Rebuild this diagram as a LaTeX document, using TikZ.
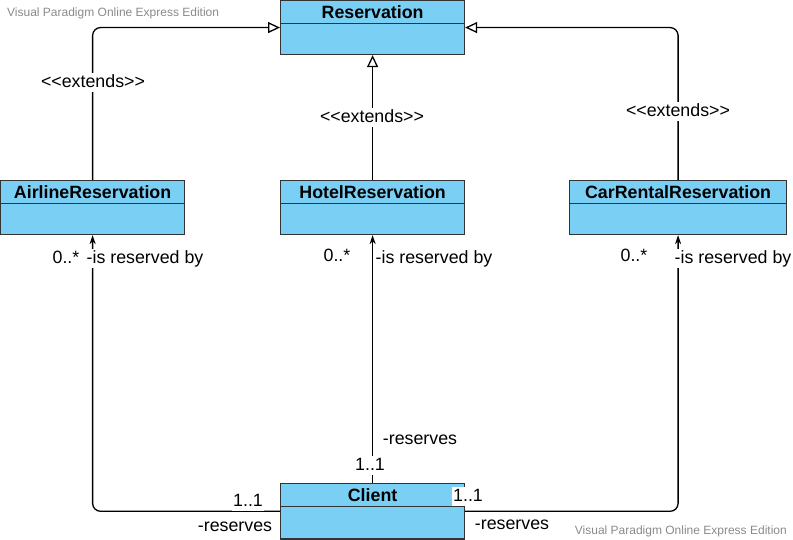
\documentclass[tikz,border=0pt]{standalone}
\usepackage{fontspec}
\setmainfont{Liberation Sans}
\usetikzlibrary{arrows.meta,shapes.multipart}
\definecolor{classfill}{HTML}{7ACFF5}
\definecolor{classline}{HTML}{333333}
\definecolor{vpgray}{HTML}{8A8A8A}
\begin{document}
\begin{tikzpicture}
			[x=1pt,y=-1pt,
			umlclass/.style={rectangle split,rectangle split parts=2,draw=classline,fill=classfill,
				line width=1.2pt,inner xsep=0pt,inner ysep=0pt,minimum width=#1,anchor=north west,
				font=\fontsize{17.8}{20}\selectfont\bfseries},
			tag/.style={fill=white,inner sep=1pt,text height=13pt,text depth=4pt,anchor=base,
				font=\fontsize{17.8}{20}\selectfont},
			vpmark/.style={text=vpgray,inner sep=0pt,font=\fontsize{12}{14}\selectfont},
			extends/.style={draw,line width=1.3pt,rounded corners=8pt,-{Triangle[open,length=12pt,width=11pt]}},
			assoc/.style={draw,line width=1.3pt,rounded corners=8pt,-{Stealth[length=9pt,width=6pt]}}]
			\useasboundingbox (0,0) rectangle (793,539);
			\node[vpmark,anchor=base west] (mark1) at (7,16) {Visual Paradigm Online Express Edition};
			\node[vpmark,anchor=base east] (mark2) at (787,534) {Visual Paradigm Online Express Edition};
			\node[umlclass=184pt] (R) at (280,0) {\rule[-5pt]{0pt}{22pt}Reservation\nodepart{two}\rule{0pt}{29.5pt}};
			\node[umlclass=184pt] (AR) at (0,180) {\rule[-5pt]{0pt}{22pt}AirlineReservation\nodepart{two}\rule{0pt}{29.5pt}};
			\node[umlclass=184pt] (HR) at (280,180) {\rule[-5pt]{0pt}{22pt}HotelReservation\nodepart{two}\rule{0pt}{29.5pt}};
			\node[umlclass=217pt] (CR) at (569,180) {\rule[-5pt]{0pt}{22pt}CarRentalReservation\nodepart{two}\rule{0pt}{29.5pt}};
			\node[umlclass=184pt] (C) at (280,483) {\rule[-5pt]{0pt}{22pt}Client\nodepart{two}\rule{0pt}{31pt}};
			\path[extends] (AR.north) |- (R.west);
			\path[extends] (HR.north) -- (R.south);
			\path[extends] (CR.north) |- (R.east);
			\path[assoc] (C.west) -| (AR.south);
			\path[assoc] (C.north) -- (HR.south);
			\path[assoc] (C.east) -| (CR.south);
			\node[tag] (ext1) at (93,87) {<{}<extends>{}>};
			\node[tag] (ext2) at (372,122) {<{}<extends>{}>};
			\node[tag] (ext3) at (678,116) {<{}<extends>{}>};
			\node[tag] (mA) at (66,263) {0..*};
			\node[tag] (rA) at (145,263) {-is reserved by};
			\node[tag] (mH) at (337,261) {0..*};
			\node[tag] (rH) at (434,263) {-is reserved by};
			\node[tag] (mC) at (634,261) {0..*};
			\node[tag] (rC) at (733,263) {-is reserved by};
			\node[tag] (sH) at (420,444) {-reserves};
			\node[tag] (nH) at (370,470) {1..1};
			\node[tag] (nA) at (248,506) {1..1};
			\node[tag] (sA) at (235,531) {-reserves};
			\node[tag] (nC) at (468,501) {1..1};
			\node[tag] (sC) at (512,529) {-reserves};
		\end{tikzpicture}
\end{document}
